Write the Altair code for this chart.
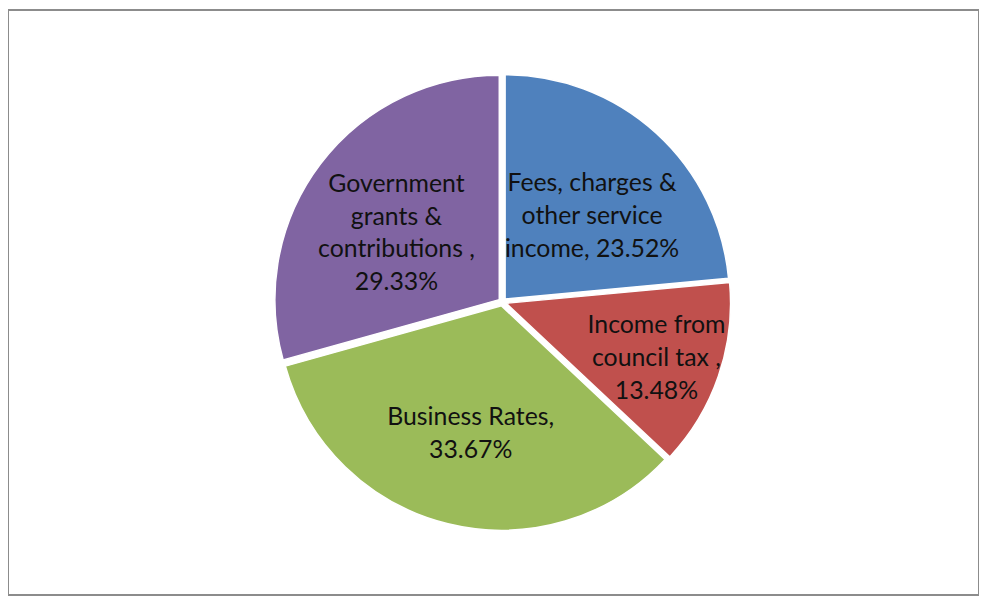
import altair as alt
import pandas as pd

categories = [
    "Fees, charges & other service income",
    "Income from council tax",
    "Business Rates",
    "Government grants & contributions",
]
shares = [23.52, 13.48, 33.67, 29.33]
labels = [
    "Fees, charges &\nother service\nincome, 23.52%",
    "Income from\ncouncil tax ,\n13.48%",
    "Business Rates,\n33.67%",
    "Government\ngrants &\ncontributions ,\n29.33%",
]
colors = ["#4F81BD", "#C0504D", "#9BBB59", "#8064A2"]

df = pd.DataFrame({
    "category": categories,
    "share": shares,
    "label": labels,
    "order": list(range(len(categories))),
})

CX, CY, R, EXPLODE = 498, 294, 226, 4
LINE_H = 33

base = alt.Chart(df).transform_window(
    cum="sum(share)", sort=[alt.SortField("order")], frame=[None, 0]
).transform_calculate(
    t0="(datum.cum - datum.share) / 100 * 2 * PI",
    t1="datum.cum / 100 * 2 * PI",
    nlines="length(split(datum.label, '\\n'))",
).transform_calculate(
    mid="(datum.t0 + datum.t1) / 2",
).transform_calculate(
    px=f"{CX} + {EXPLODE} * sin(datum.mid)",
    py=f"{CY} - {EXPLODE} * cos(datum.mid)",
    rx="datum.share < 15 ? 164 : 134",
    ry="datum.share < 15 ? 150 : 128",
).transform_calculate(
    lx=f"{CX} + datum.rx * sin(datum.mid)",
    ly=f"{CY} + 8 - datum.ry * cos(datum.mid) - (datum.nlines - 1) * {LINE_H} / 2",
)

arcs = base.mark_arc(radius=R, stroke="white", strokeWidth=1.5).encode(
    theta=alt.Theta("t0:Q", scale=None),
    theta2=alt.Theta2("t1:Q"),
    x=alt.X("px:Q", scale=None),
    y=alt.Y("py:Q", scale=None),
    color=alt.Color("category:N", scale=alt.Scale(domain=categories, range=colors), legend=None),
)

text = base.mark_text(
    font="Lato", fontSize=25, lineHeight=LINE_H, lineBreak="\n",
    align="center", baseline="middle", color="#111111",
).encode(
    x=alt.X("lx:Q", scale=None),
    y=alt.Y("ly:Q", scale=None),
    text="label:N",
)

chart = alt.layer(arcs, text).properties(
    width=978, height=589, padding=0,
    autosize=alt.AutoSizeParams(type="fit", contains="padding"),
).configure_view(stroke="#8c8c8c", strokeWidth=2)

chart.save("out.html", embed_options={"renderer": "svg", "actions": False})
